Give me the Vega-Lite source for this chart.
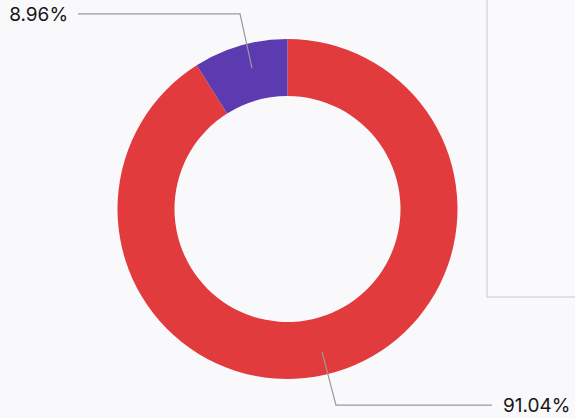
{
  "$schema": "https://vega.github.io/schema/vega-lite/v6.json",
  "width": 575,
  "height": 418,
  "autosize": {"type": "fit", "contains": "padding"},
  "padding": 0,
  "background": "#f9f9fc",
  "config": {"view": {"stroke": null}, "font": "Inter"},
  "datasets": {
    "slices": [
      {"category": "A", "value": 91.04, "idx": 1},
      {"category": "B", "value": 8.96, "idx": 2}
    ],
    "leaders": [
      {"slice": "B", "i": 1, "x": -0.214, "y": 0.849},
      {"slice": "B", "i": 2, "x": -0.286, "y": 1.175},
      {"slice": "B", "i": 3, "x": -1.262, "y": 1.175},
      {"slice": "A", "i": 1, "x": 0.208, "y": -0.861},
      {"slice": "A", "i": 2, "x": 0.292, "y": -1.181},
      {"slice": "A", "i": 3, "x": 1.232, "y": -1.181}
    ],
    "labelsLeft": [
      {"label": "8.96%", "x": -1.322, "y": 1.17}
    ],
    "labelsRight": [
      {"label": "91.04%", "x": 1.298, "y": -1.186}
    ],
    "box": [
      {"x": 1.202, "x2": 1.9, "y": 1.4, "y2": -0.53}
    ]
  },
  "layer": [
    {
      "data": {"name": "box"},
      "mark": {"type": "rect", "fill": "#fafafe", "stroke": "#d9d9dd", "strokeWidth": 1.5, "clip": true},
      "encoding": {
        "x": {"field": "x", "type": "quantitative", "scale": {"domain": [-1.732, 1.732], "nice": false, "zero": false}, "axis": null},
        "x2": {"field": "x2"},
        "y": {"field": "y", "type": "quantitative", "scale": {"domain": [-1.259, 1.259], "nice": false, "zero": false}, "axis": null},
        "y2": {"field": "y2"}
      }
    },
    {
      "data": {"name": "slices"},
      "mark": {"type": "arc", "radius": 170, "innerRadius": 113},
      "encoding": {
        "theta": {"field": "value", "type": "quantitative", "stack": true},
        "order": {"field": "idx", "type": "quantitative"},
        "color": {"field": "category", "type": "nominal", "legend": null,
          "scale": {"domain": ["A", "B"], "range": ["#e23b3d", "#5c3ab0"]}}
      }
    },
    {
      "data": {"name": "leaders"},
      "mark": {"type": "line", "stroke": "#9a9a9e", "strokeWidth": 1.2},
      "encoding": {
        "x": {"field": "x", "type": "quantitative", "axis": null},
        "y": {"field": "y", "type": "quantitative", "axis": null},
        "detail": {"field": "slice", "type": "nominal"},
        "order": {"field": "i", "type": "quantitative"}
      }
    },
    {
      "data": {"name": "labelsLeft"},
      "mark": {"type": "text", "fontSize": 19, "color": "#151515", "baseline": "middle", "align": "right"},
      "encoding": {
        "x": {"field": "x", "type": "quantitative", "axis": null},
        "y": {"field": "y", "type": "quantitative", "axis": null},
        "text": {"field": "label", "type": "nominal"}
      }
    },
    {
      "data": {"name": "labelsRight"},
      "mark": {"type": "text", "fontSize": 19, "color": "#151515", "baseline": "middle", "align": "left"},
      "encoding": {
        "x": {"field": "x", "type": "quantitative", "axis": null},
        "y": {"field": "y", "type": "quantitative", "axis": null},
        "text": {"field": "label", "type": "nominal"}
      }
    }
  ]
}
